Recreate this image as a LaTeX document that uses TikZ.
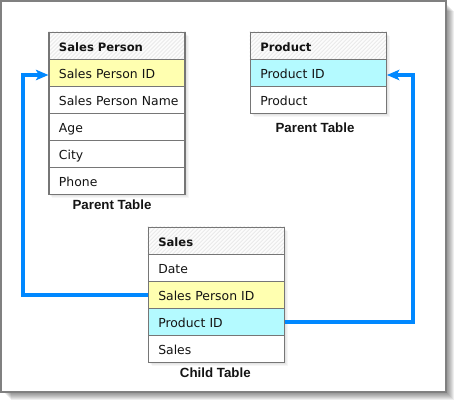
\documentclass[tikz,border=0pt]{standalone}
\usepackage{fontspec}
\setmainfont{DejaVu Sans}
\newfontfamily\captionfnt{Liberation Sans}
\usetikzlibrary{arrows.meta,backgrounds,calc}
\definecolor{frameborder}{RGB}{128,128,128}
\definecolor{cellborder}{RGB}{118,118,118}
\definecolor{keyyellow}{RGB}{255,255,176}
\definecolor{keycyan}{RGB}{180,250,255}
\definecolor{linkblue}{RGB}{0,136,255}
\definecolor{hatchgray}{RGB}{234,234,234}
\definecolor{headfill}{RGB}{252,252,252}
\definecolor{txt}{RGB}{20,20,20}
\tikzset{
  cell/.style={draw=cellborder, line width=1.2pt, minimum height=27pt,
    text width=126pt, inner xsep=5pt, inner ysep=0pt, align=left,
    text height=10.5pt, text depth=0pt,
    execute at begin node={\hspace*{5pt}},
    font=\fontsize{12.4}{14}\selectfont, text=txt, fill=white},
  headcell/.style={cell, fill=none, font=\fontsize{11.6}{14}\selectfont\bfseries},
  tcaption/.style={font=\captionfnt\fontsize{13.3}{15}\selectfont\bfseries, text=txt},
  link/.style={draw=linkblue, line width=3.8pt,
    -{Stealth[length=12.5pt,width=10.5pt,inset=3pt]}},
  hatchline/.style={draw=hatchgray, line width=0.9pt},
}
\newcommand\hatchhead[1]{%
  \begin{scope}
    \clip (#1.south west) rectangle (#1.north east);
    \fill[headfill] (#1.south west) rectangle (#1.north east);
    \foreach \i in {-32,-28,...,140}
      \draw[hatchline] ($(#1.south west)+(\i,0)$) -- ++(32,-32);
  \end{scope}}
\newcommand\tableshadow[2]{%
  \foreach \d in {1,2,3}
    \fill[black, opacity=0.035] ($(#1.north west)+(\d+1,\d+1)$) rectangle ($(#2.south east)+(\d,\d)$);}
\begin{document}
\begin{tikzpicture}[x=1pt, y=-1pt]
\useasboundingbox (0,0) rectangle (456,402);
\begin{scope}[on background layer]
  \foreach \d in {8,7,...,1}
    \fill[black, opacity=0.065] (\d+3,\d+3) rectangle (446+\d,392+\d);
  \draw[frameborder, fill=white, line width=1.3pt] (1,1) rectangle (446,392);
\end{scope}

% Sales Person table
\node[headcell] (sph) at (117,46) {Sales Person};
\node[cell, fill=keyyellow] (sp1) at (117,73) {Sales Person ID};
\node[cell] (sp2) at (117,100) {Sales Person Name};
\node[cell] (sp3) at (117,127) {Age};
\node[cell] (sp4) at (117,154) {City};
\node[cell] (sp5) at (117,181) {Phone};
\node[tcaption] (spc) at (112,205) {Parent Table};

% Product table
\node[headcell] (ph) at (318.3,46) {Product};
\node[cell, fill=keycyan] (p1) at (318.3,73) {Product ID};
\node[cell] (p2) at (318.3,100) {Product};
\node[tcaption] (pc) at (315,128) {Parent Table};

% Sales table
\node[headcell] (sh) at (216.3,241) {Sales};
\node[cell] (s1) at (216.3,268) {Date};
\node[cell, fill=keyyellow] (s2) at (216.3,295) {Sales Person ID};
\node[cell, fill=keycyan] (s3) at (216.3,322) {Product ID};
\node[cell] (s4) at (216.3,349) {Sales};
\node[tcaption] (sc) at (215.3,373) {Child Table};

\begin{scope}[on background layer]
  \tableshadow{sph}{sp5}
  \tableshadow{ph}{p2}
  \tableshadow{sh}{s4}
  \hatchhead{sph}
  \hatchhead{ph}
  \hatchhead{sh}
\end{scope}

% Links
\coordinate (la) at (23,0);
\coordinate (ra) at (413.3,0);
\coordinate (spin) at ($(sp1.west)+(0,2)$);
\coordinate (pin) at ($(p1.east)+(0,2)$);
\draw[link] (s2.west) -- (s2.west -| la) -- (spin -| la) -- (spin);
\draw[link] (s3.east) -- (s3.east -| ra) -- (pin -| ra) -- (pin);
\end{tikzpicture}
\end{document}
